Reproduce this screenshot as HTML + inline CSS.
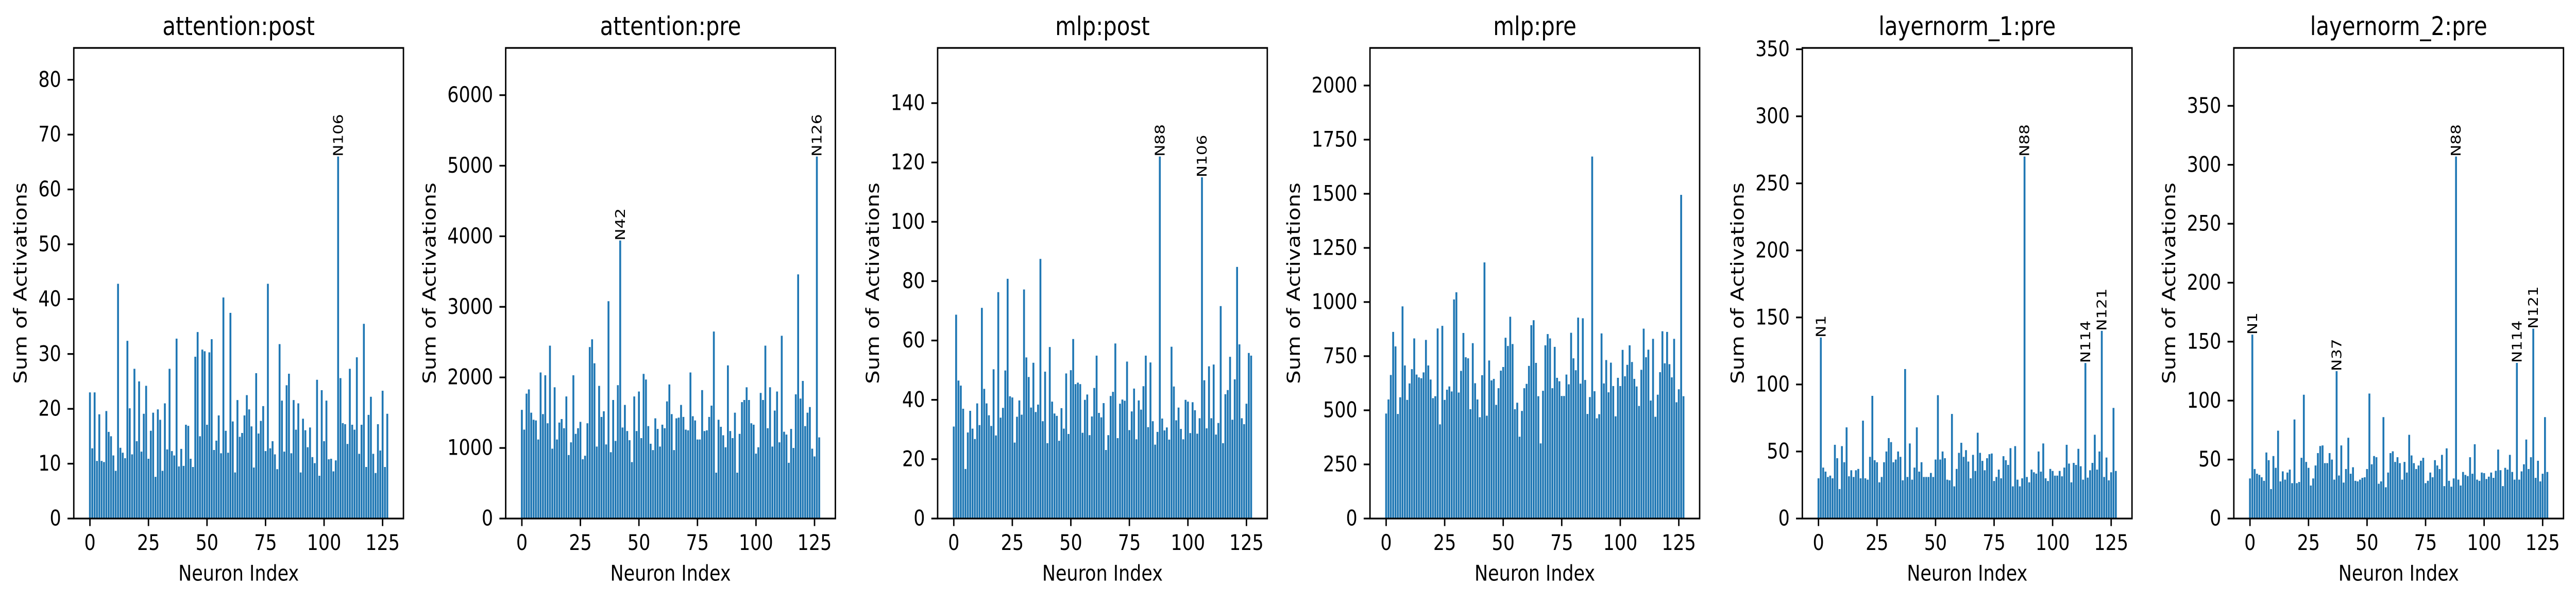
<!DOCTYPE html>
<html><head><meta charset="utf-8">
<style>
html,body{margin:0;padding:0;background:#fff;width:100%;height:100%;overflow:hidden;}
svg{display:block;width:100vw;height:100vh;font-family:"DejaVu Sans","Liberation Sans",sans-serif;}
</style></head>
<body>
<svg id="fig" viewBox="0 0 5970 1166" preserveAspectRatio="none" xmlns="http://www.w3.org/2000/svg"></svg>
<script>
const titles = ["attention:post","attention:pre","mlp:post","mlp:pre","layernorm_1:pre","layernorm_2:pre"];
const attnPost = [23,12.8,23,10.5,19,10.5,10.3,19.6,15.8,15,11.5,8.7,42.8,12.9,12,11,32.4,20.1,11.7,27.3,14.1,25,12.2,19.1,24.2,10.9,16,19.3,7.6,19.9,18,8.7,21,12.6,27.3,12.3,11.5,32.8,9.5,12.7,9.6,17.1,16.9,10.9,9.4,29.5,34,15,30.8,30.5,17.1,30.3,32.7,12.5,14.2,18.8,11.9,40.3,16,12,37.5,17.7,8.4,21.6,14.9,15.6,18.8,22.5,19.9,16.8,9.3,26.5,15.5,17.8,20.5,12.3,42.8,12.8,14.1,11.7,9,31.8,21.5,12.2,24.3,26.4,11.9,21.6,16.2,21,8.4,18.2,16.1,13,16.6,11.2,10.1,25.3,7.8,23.4,14.1,21.5,10.8,10.9,8.6,10.6,66,25.6,17.4,17.2,13.6,27.3,17.1,16.2,29.4,11.8,17.1,35.5,9.4,18.9,22.2,11.8,8.3,17.2,12.4,23.3,9.4,19.1];
const attnPre = [1540,1260,1770,1830,1500,1400,1390,1120,2070,1480,2030,1350,2450,990,1860,1120,1360,1410,1280,1730,900,1080,2030,1200,1280,1370,840,890,1350,2430,2540,2200,1020,1880,1440,1520,1050,3080,940,1680,1100,1890,3940,1290,1610,1240,1110,800,1730,1240,1800,1140,2050,1970,1310,1060,970,1420,1270,1020,1330,1280,1660,1900,1480,970,1420,1430,1610,1440,1260,1250,2070,1450,1390,1120,1120,1820,1240,1250,1440,1600,2650,650,1400,1300,1180,1010,2170,1240,1140,1500,650,1200,1650,1680,1860,1680,1350,1330,920,1010,1780,1680,2450,1280,1860,1020,1530,1800,1080,2590,1230,1190,790,1270,1000,1760,3460,1700,1950,1310,1500,1580,990,880,5130,1150];
const mlpPost = [31,68.7,46.5,44.8,37,16.7,29,36.3,30.3,26.8,38.8,31.5,71,43.7,38.8,34.8,31.2,50.3,28,76.3,34,37.3,49.9,80.8,41.2,40.8,25.6,34.3,39.8,35,77.2,54.3,47.7,37.4,52.5,35.9,38.4,87.5,32.8,49.5,25.4,57.8,39.4,35.4,34.6,26.2,37.2,30.3,48.9,28.5,50,60.5,45.3,45.8,45.3,28.9,40,41.8,28.1,34.4,44,54.9,35.6,34.1,38.9,23.1,28.1,41.3,42.7,59,27.1,38.7,40.1,39.7,52.9,29.8,36.1,43.8,26.7,39.8,36.7,44.6,54.9,30.8,52.6,32.8,24.9,29.2,122,33.7,29.7,30.7,26.6,57.9,44.5,33.1,37.4,30.2,26.7,40,39.4,28.8,39.2,36.5,28.6,33.8,115,46.6,30.4,51.3,33.8,51.9,28.3,32.2,71.6,25.4,41.9,43.3,54.5,33.3,46.9,84.8,58.7,33.8,31.8,38.7,55.8,54.9];
const mlpPre = [485,550,663,862,795,483,560,980,707,548,624,690,832,665,652,648,675,825,707,642,556,565,878,435,890,548,595,610,587,1012,1045,582,682,857,745,740,505,810,625,550,468,662,1183,475,730,638,645,525,602,683,700,835,797,932,806,505,535,378,497,602,622,705,893,916,719,565,347,590,800,852,832,602,793,650,634,566,566,665,620,858,740,685,928,623,925,640,483,561,1672,588,463,482,855,624,732,583,720,612,472,650,612,779,657,710,800,723,645,610,520,687,877,745,780,545,830,470,572,676,865,717,862,713,652,830,537,597,1495,565];
const ln1Pre = [30,135,38,35,31,32,30,55,45,22,54,42,68,31.5,36,31,36,37,30,73,30,29,46,91.5,43.5,42,27,31,42,50,60,57,42,44,50,46,28.5,111.5,31,56,29,38,68,35,42,31,31,31,34,31,44,92,44,50,45,29,28.5,78,24,37,49,56.5,46,51,42.5,30,47.5,35.5,64,49,43,36,45,48,48.5,28,31,36.5,30,46.5,43.5,40,52.5,24,54,29,24,30,270,31,27,36.5,34.5,33.5,50,35,56,30,28,37,35.5,32,32,35.5,31.5,38,55,41,27,41.5,40,52,39,29,116,30.5,36,41.5,62.5,36.5,50,140,31,45.5,28.5,34.5,82.5,35.5];
const ln2Pre = [34,156,42,38,37,35,32,56,49.5,25,53,43,74.5,31.5,40,33,39,41.5,30,84,30,31,51.5,105,48,43,28,34,45,55.5,61.5,62,47,47,55.5,50,33,125,36.5,62,30.5,42,68.5,38,43.5,32,31.5,33,34.5,35,42,106,46,53,52,29.5,31.5,86,26.5,39,55.5,57,48,52,47,33,48,39,71,53.5,47,42,45,49,51.5,30,32,39,35,49.5,45,42,54,27.5,59.5,32,27,34,307,33,28,39.5,37,36,52,38,63,33,32,39,38.5,33.5,35.5,39,34.5,40.5,58.5,41,27.5,43,41.5,54,39.5,33,132,33,40,46,67,42,52,161,34.5,49,31.5,38,86,39.5];
const labeled1 = [106];
const labeled2 = [42,126];
const labeled3 = [88,106];
const labeled4 = [];
const labeled5 = [1,88,114,121];
const labeled6 = [1,37,88,114,121];
const yStep1 = [10]; const yStep2 = [1000]; const yStep3 = [20]; const yStep4 = [250]; const yStep5 = [50]; const yStep6 = [50];
const xTicks = [0,25,50,75,100,125];

const series = [attnPost, attnPre, mlpPost, mlpPre, ln1Pre, ln2Pre];
const labeled = [labeled1, labeled2, labeled3, labeled4, labeled5, labeled6];
const ySteps = [yStep1[0], yStep2[0], yStep3[0], yStep4[0], yStep5[0], yStep6[0]];
const lefts = [171,1172,2173,3175,4177,5177];
const W = 764, TOP = 93, BOT = 1006;
const NS = "http://www.w3.org/2000/svg";
const svg = document.getElementById('fig');
function mk(tag, attrs, parent){ const e=document.createElementNS(NS,tag); for(const k in attrs) e.setAttribute(k,attrs[k]); parent.appendChild(e); return e; }
const FS = 41.7, CW = 0.636*FS;

series.forEach((vals, p) => {
  const g = mk('g', {}, svg);
  
  
  const L = lefts[p];
  const n = vals.length;
  const xmin = -0.5 - 0.05*n, xmax = n - 0.5 + 0.05*n;
  const ymax = Math.max(...vals) * 1.3;
  const sx = v => L + (v - xmin) / (xmax - xmin) * W;
  const sy = v => BOT - v / ymax * (BOT - TOP);
  vals.forEach((v, i) => {
    const r = mk('rect', {x: sx(i-0.4), y: sy(v), width: sx(i+0.4)-sx(i-0.4), height: BOT - sy(v), fill: '#1f77b4'}, g);
    
    
  });
  labeled[p].forEach(i => {
    const x = sx(i), y = sy(vals[i]);
    const t = mk('text', {x: x, y: y, transform: `rotate(-90 ${x} ${y})`, 'font-size': 31, 'dominant-baseline': 'central', 'text-anchor': 'start', fill: '#000'}, g);
    t.textContent = 'N' + i;
    
    
  });
  const fr = mk('rect', {x: L, y: TOP, width: W, height: BOT-TOP, fill: 'none', stroke: '#000', 'stroke-width': 3.3}, g);
  
  
  const step = ySteps[p];
  let maxLen = 0;
  for (let v = 0; v <= ymax + 1e-9; v += step) {
    const y = sy(v);
    mk('line', {x1: L - 14.6, x2: L, y1: y, y2: y, stroke: '#000', 'stroke-width': 3.3}, g);
    const t = mk('text', {x: L - 29.2, y: y, 'font-size': FS, 'text-anchor': 'end', 'dominant-baseline': 'central', fill: '#000'}, g);
    t.textContent = String(v);
    
    
    maxLen = Math.max(maxLen, String(v).length);
  }
  xTicks.forEach(v => {
    const x = sx(v);
    mk('line', {x1: x, x2: x, y1: BOT, y2: BOT + 14.6, stroke: '#000', 'stroke-width': 3.3}, g);
    const t = mk('text', {x: x, y: BOT + 29.2 + FS*0.76, 'font-size': FS, 'text-anchor': 'middle', fill: '#000'}, g);
    t.textContent = String(v);
    
    
  });
  const tt = mk('text', {x: L + W/2, y: 68, 'font-size': 50, 'text-anchor': 'middle', fill: '#000'}, g);
  tt.textContent = titles[p];
  
  
  const xl = mk('text', {x: L + W/2, y: 1113, 'font-size': FS, 'text-anchor': 'middle', 'dominant-baseline': 'central', fill: '#000'}, g);
  xl.textContent = 'Neuron Index';
  
  
  const yx = L - (29.2 + maxLen*CW + 16.7 + 24);
  const ym = (TOP + BOT)/2;
  const yl = mk('text', {x: yx, y: ym, transform: `rotate(-90 ${yx} ${ym})`, 'font-size': FS, 'text-anchor': 'middle', 'dominant-baseline': 'central', fill: '#000'}, g);
  yl.textContent = 'Sum of Activations';
  
  
});
</script>
</body></html>
